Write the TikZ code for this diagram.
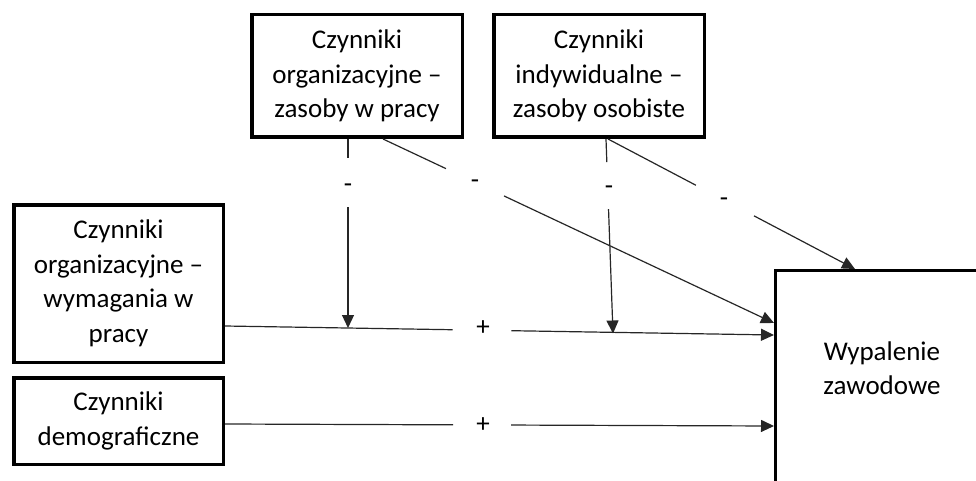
\documentclass[tikz,border=0pt]{standalone}
\usepackage{fontspec}
\setmainfont{Carlito}
\usetikzlibrary{arrows.meta,calc}

\begin{document}
\begin{tikzpicture}[x=1pt,y=-1pt,
  txt/.style={font=\fontsize{27}{34.5}\selectfont},
  box/.style={txt, draw, line width=3.5pt, inner sep=0pt, align=center},
  link/.style={line width=1.2pt, draw=black!85},
  arr/.style={link, -{Triangle[length=13pt,width=12pt]}},
  sign/.style={txt, inner sep=0pt}]
\useasboundingbox (0,0) rectangle (976,481);
\clip (0,0) rectangle (976,481);

% factor boxes
\node[box, minimum width=210.5pt, minimum height=122.5pt] (tb1) at (357,76)
  {Czynniki\\organizacyjne –\\zasoby w pracy};
\node[box, minimum width=210.5pt, minimum height=122.5pt] (tb2) at (599,76)
  {Czynniki\\indywidualne –\\zasoby osobiste};
\node[box, minimum width=209.5pt, minimum height=157.5pt] (lb1) at (118.5,283.5)
  {Czynniki\\organizacyjne –\\wymagania w\\pracy};
\node[box, minimum width=209.5pt, minimum height=86.5pt] (lb2) at (118.5,421)
  {Czynniki\\demograficzne};

% outcome box (runs past the page edge)
\node[draw, line width=3pt, minimum width=300pt, minimum height=300pt,
      anchor=north west] (rb) at (774,269) {};
\node[txt, align=center] (rbt) at (882,368) {Wypalenie\\zawodowe};

% demands -> burnout
\coordinate (h1s) at (lb1.east |- 0,326);
\coordinate (h1e) at (rb.west |- 0,335);
\draw[link] (h1s) -- ($(h1s)!0.4145!(h1e)$);
\node[sign] (p1) at (483,328) {+};
\draw[arr] ($(h1s)!0.5218!(h1e)$) -- (h1e);

% demographics -> burnout
\coordinate (h2s) at (lb2.east |- 0,424);
\coordinate (h2e) at (rb.west |- 0,426);
\draw[link] (h2s) -- ($(h2s)!0.4153!(h2e)$);
\node[sign] (p2) at (483,425) {+};
\draw[arr] ($(h2s)!0.521!(h2e)$) -- (h2e);

% job resources moderating demands
\coordinate (v1s) at (tb1.south -| 348,0);
\coordinate (v1e) at (348,328);
\draw[link] (v1s) -- ($(v1s)!0.1005!(v1e)$);
\node[sign] (m1) at (348,188) {-};
\draw[arr] ($(v1s)!0.36!(v1e)$) -- (v1e);

% job resources -> burnout
\coordinate (d1s) at (tb1.south -| 383,0);
\coordinate (d1e) at (rb.west |- 0,323);
\draw[link] (d1s) -- ($(d1s)!0.161!(d1e)$);
\node[sign] (m2) at (475,184) {-};
\draw[arr] ($(d1s)!0.3095!(d1e)$) -- (d1e);

% personal resources moderating demands
\coordinate (v2s) at (tb2.south -| 606,0);
\coordinate (v2e) at (613,333.5);
\draw[link] (v2s) -- ($(v2s)!0.1186!(v2e)$);
\node[sign] (m3) at (609,190) {-};
\draw[arr] ($(v2s)!0.361!(v2e)$) -- (v2e);

% personal resources -> burnout
\coordinate (d2s) at (tb2.south -| 608,0);
\coordinate (d2e) at (rb.north -| 855,0);
\draw[link] (d2s) -- ($(d2s)!0.356!(d2e)$);
\node[sign] (m4) at (724,202) {-};
\draw[arr] ($(d2s)!0.591!(d2e)$) -- (d2e);
\end{tikzpicture}
\end{document}
